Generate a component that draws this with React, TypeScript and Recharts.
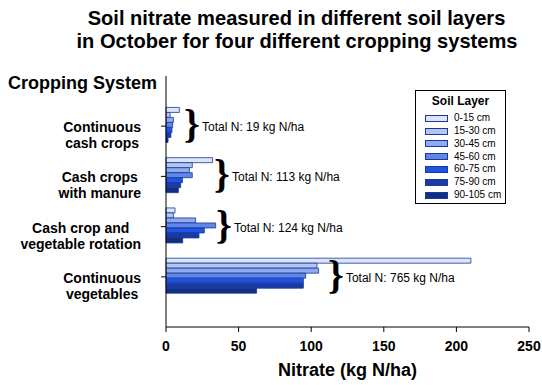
import { BarChart, Bar, XAxis, YAxis, Legend, ReferenceDot } from 'recharts'

const FONT = '"Liberation Sans", Arial, Helvetica, sans-serif'

// cropping systems, top to bottom
const systems = [
  'Continuous cash crops',
  'Cash crops with manure',
  'Cash crop and vegetable rotation',
  'Continuous vegetables',
]
const systemLines = [
  ['Continuous', 'cash crops'],
  ['Cash crops', 'with manure'],
  ['Cash crop and', 'vegetable rotation'],
  ['Continuous', 'vegetables'],
]

const layers = ['0-15 cm', '15-30 cm', '30-45 cm', '45-60 cm', '60-75 cm', '75-90 cm', '90-105 cm']

// nitrate, kg N/ha, one value per cropping system
const layer0to15 = [9.2, 32.1, 6.2, 210]
const layer15to30 = [2.8, 18.1, 5.1, 104]
const layer30to45 = [5.1, 16.1, 20.4, 105.1]
const layer45to60 = [4.6, 18.1, 34.2, 96.2]
const layer60to75 = [4.1, 11.3, 26.4, 94.6]
const layer75to90 = [3.4, 10.1, 22.7, 94.6]
const layer90to105 = [1.4, 8.5, 11.5, 62.4]

const totalN = [19, 113, 124, 765]

const xTicks = [0, 50, 100, 150, 200, 250]

const layerValues = [layer0to15, layer15to30, layer30to45, layer45to60, layer60to75, layer75to90, layer90to105]
const fills = ['#dbe4fb', '#b3c6f3', '#8eaaf0', '#5f86ea', '#1f52e6', '#1a3aa8', '#102e85']
const barStroke = '#1c3a8f'

// where each "}" annotation starts, in kg N/ha
const braceAt = [14.5, 35.1, 36.5, 113.6]

const rows = systems.map((system, i) => {
  const row: Record<string, string | number> = { system }
  layers.forEach((layer, j) => {
    row[layer] = layerValues[j][i]
  })
  return row
})

let canvas: HTMLCanvasElement | null = null
function textWidth(s: string, font: string) {
  if (!canvas) canvas = document.createElement('canvas')
  const ctx = canvas.getContext('2d')
  if (!ctx) return s.length * 7
  ctx.font = font
  return ctx.measureText(s).width
}

function SystemTick({ y, payload }: any) {
  const idx = systems.indexOf(payload.value)
  const lines = systemLines[idx] ?? [payload.value]
  const font = `bold 14px ${FONT}`
  const widest = Math.max(...lines.map((l) => textWidth(l, font)))
  const cx = 141 - widest / 2
  return (
    <g>
      {lines.map((line, k) => (
        <text key={k} x={cx} y={y + 6 + k * 16} textAnchor="middle" fontFamily={FONT} fontSize={14} fontWeight="bold" fill="#000">
          {line}
        </text>
      ))}
    </g>
  )
}

function BraceNote(i: number) {
  return ({ cx, cy }: any) => (
    <g>
      <text x={cx - 3} y={cy + 11} fontFamily='"Liberation Serif", "Times New Roman", serif' fontSize={40} fontWeight="bold" fill="#000">
        {'}'}
      </text>
      <text x={cx + 15} y={cy + 5} fontFamily={FONT} fontSize={12} fill="#000">
        {`Total N: ${totalN[i]} kg N/ha`}
      </text>
    </g>
  )
}

function LegendBox({ payload }: any) {
  const items = (payload ?? []).map((p: any) => ({ label: p.value, color: p.color }))
  return (
    <div style={{ width: 89, height: 112, border: '1px solid #000', background: '#fff', position: 'relative', fontFamily: FONT, color: '#000' }}>
      <div style={{ position: 'absolute', left: 0, right: 0, top: 3, textAlign: 'center', fontWeight: 'bold', fontSize: 12, lineHeight: '14px' }}>
        Soil Layer
      </div>
      {items.map((it: any, k: number) => (
        <div key={it.label} style={{ position: 'absolute', left: 9, top: 23.7 + k * 12.8, height: 7, display: 'flex', alignItems: 'center' }}>
          <span style={{ display: 'inline-block', width: 21, height: 5, background: it.color, border: `1px solid ${barStroke}` }} />
          <span style={{ marginLeft: 6, fontSize: 10, lineHeight: '10px', whiteSpace: 'nowrap' }}>{it.label}</span>
        </div>
      ))}
    </div>
  )
}

export default function App() {
  return (
    <div style={{ position: 'absolute', left: 0, top: 0, width: 542, height: 385, background: '#fff' }}>
      <BarChart
        width={542}
        height={385}
        data={rows}
        layout="vertical"
        margin={{ top: 76, right: 13, bottom: 0, left: 0 }}
        barCategoryGap="12.8%"
        barGap={0}
      >
        <XAxis
          type="number"
          domain={[0, 250]}
          ticks={xTicks}
          height={58}
          axisLine={{ stroke: '#000' }}
          tickLine={{ stroke: '#000' }}
          tickSize={5}
          tickMargin={9}
          tick={{ fill: '#000', fontSize: 14, fontWeight: 'bold', fontFamily: FONT }}
        />
        <XAxis xAxisId="top" orientation="top" type="number" domain={[0, 250]} height={0} tick={false} tickLine={false} axisLine={{ stroke: '#808080' }} />
        <YAxis
          type="category"
          dataKey="system"
          width={166}
          padding={{ top: 25, bottom: 25 }}
          axisLine={{ stroke: '#000' }}
          tickLine={{ stroke: '#000' }}
          tickSize={5}
          tick={<SystemTick />}
          interval={0}
        />
        <YAxis yAxisId="right" orientation="right" type="category" dataKey="system" width={0} tick={false} tickLine={false} axisLine={{ stroke: '#808080' }} />
        <Legend
          layout="vertical"
          align="center"
          verticalAlign="middle"
          wrapperStyle={{ left: 415, top: 90, width: 91, height: 114 }}
          content={<LegendBox />}
        />
        {layers.map((layer, j) => (
          <Bar key={layer} dataKey={layer} name={layer} fill={fills[j]} stroke={barStroke} strokeWidth={0.8} isAnimationActive={false} />
        ))}
        {systems.map((s, i) => (
          <ReferenceDot key={s} x={braceAt[i]} y={s} r={0} shape={BraceNote(i)} />
        ))}
        <text x={296.5} y={25} textAnchor="middle" fontFamily={FONT} fontSize={20.1} fontWeight="bold" fill="#000">
          Soil nitrate measured in different soil layers
        </text>
        <text x={297} y={48} textAnchor="middle" fontFamily={FONT} fontSize={20.1} fontWeight="bold" fill="#000">
          in October for four different cropping systems
        </text>
        <text x={8} y={89} fontFamily={FONT} fontSize={18} fontWeight="bold" fill="#000">
          Cropping System
        </text>
        <text x={347.5} y={376} textAnchor="middle" fontFamily={FONT} fontSize={18} fontWeight="bold" fill="#000">
          Nitrate (kg N/ha)
        </text>
      </BarChart>
    </div>
  )
}
